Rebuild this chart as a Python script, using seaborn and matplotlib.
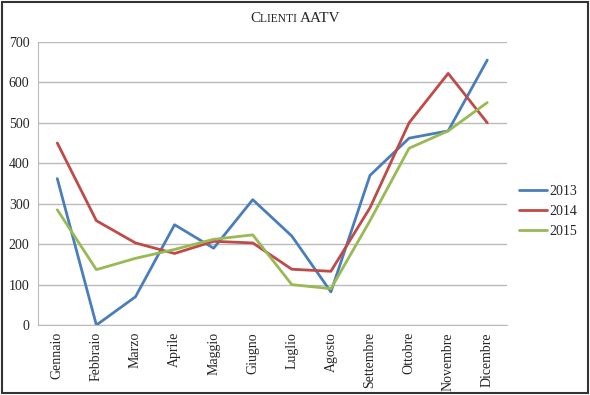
import matplotlib
matplotlib.use("Agg")
import matplotlib.pyplot as plt
import pandas as pd
import seaborn as sns
from matplotlib.patches import Rectangle

MONTHS = ["Gennaio", "Febbraio", "Marzo", "Aprile", "Maggio", "Giugno",
          "Luglio", "Agosto", "Settembre", "Ottobre", "Novembre", "Dicembre"]
Y2013 = [362, 0, 70, 248, 190, 310, 220, 82, 370, 462, 480, 655]
Y2014 = [450, 258, 203, 177, 207, 203, 138, 133, 290, 500, 622, 500]
Y2015 = [285, 137, 165, 187, 212, 223, 100, 90, 258, 437, 480, 550]
YEARS = ["2013", "2014", "2015"]
COLORS = ["#4A7EBB", "#BE4B48", "#98B954"]

rows = []
for year, vals in zip(YEARS, [Y2013, Y2014, Y2015]):
    for i, v in enumerate(vals):
        rows.append({"pos": i, "mese": MONTHS[i], "anno": year, "clienti": v})
df = pd.DataFrame(rows)

sns.set_style("white")
plt.rcParams["font.family"] = ["Liberation Serif", "DejaVu Serif"]

fig = plt.figure(figsize=(5.9, 3.95), dpi=100)
ax = fig.add_axes([0.064, 0.177, 0.795, 0.717])

sns.lineplot(data=df, x="pos", y="clienti", hue="anno", palette=COLORS,
             linewidth=2, ax=ax)

ax.set_xlim(-0.5, 11.5)
ax.set_ylim(0, 700)
ax.set_yticks(range(0, 701, 100))
ax.set_xticks(range(12))
ax.set_xticklabels(MONTHS, rotation=90, fontsize=10)
ax.tick_params(axis="y", labelsize=10, length=0, pad=6)
ax.tick_params(axis="x", length=0, pad=5)
ax.set_xlabel("")
ax.set_ylabel("")
ax.grid(axis="y", color="#BBBBBB", linewidth=1)
for side in ["top", "right"]:
    ax.spines[side].set_visible(False)
for side in ["left", "bottom"]:
    ax.spines[side].set_color("#BBBBBB")

handles, labels = ax.get_legend_handles_labels()
ax.legend(handles, labels, loc="center left", bbox_to_anchor=(1.0, 0.40),
          frameon=False, fontsize=10, handlelength=2.0, handletextpad=0.2,
          labelspacing=0.5)

# small-caps title "Clienti AATV", pieces laid out one after another
fig.canvas.draw()
renderer = fig.canvas.get_renderer()
pieces = [("C", 11), ("LIENTI ", 8.3), ("AATV", 11)]
x = 0.424
for txt, size in pieces:
    t = fig.text(x, 0.945, txt, fontsize=size, ha="left", va="baseline")
    bb = t.get_window_extent(renderer)
    x += bb.width / fig.bbox.width

fig.patches.append(Rectangle((0.003, 0.004), 0.993, 0.99, transform=fig.transFigure,
                             fill=False, edgecolor="#333333", linewidth=1.5))

fig.savefig("out.png", dpi=100)
